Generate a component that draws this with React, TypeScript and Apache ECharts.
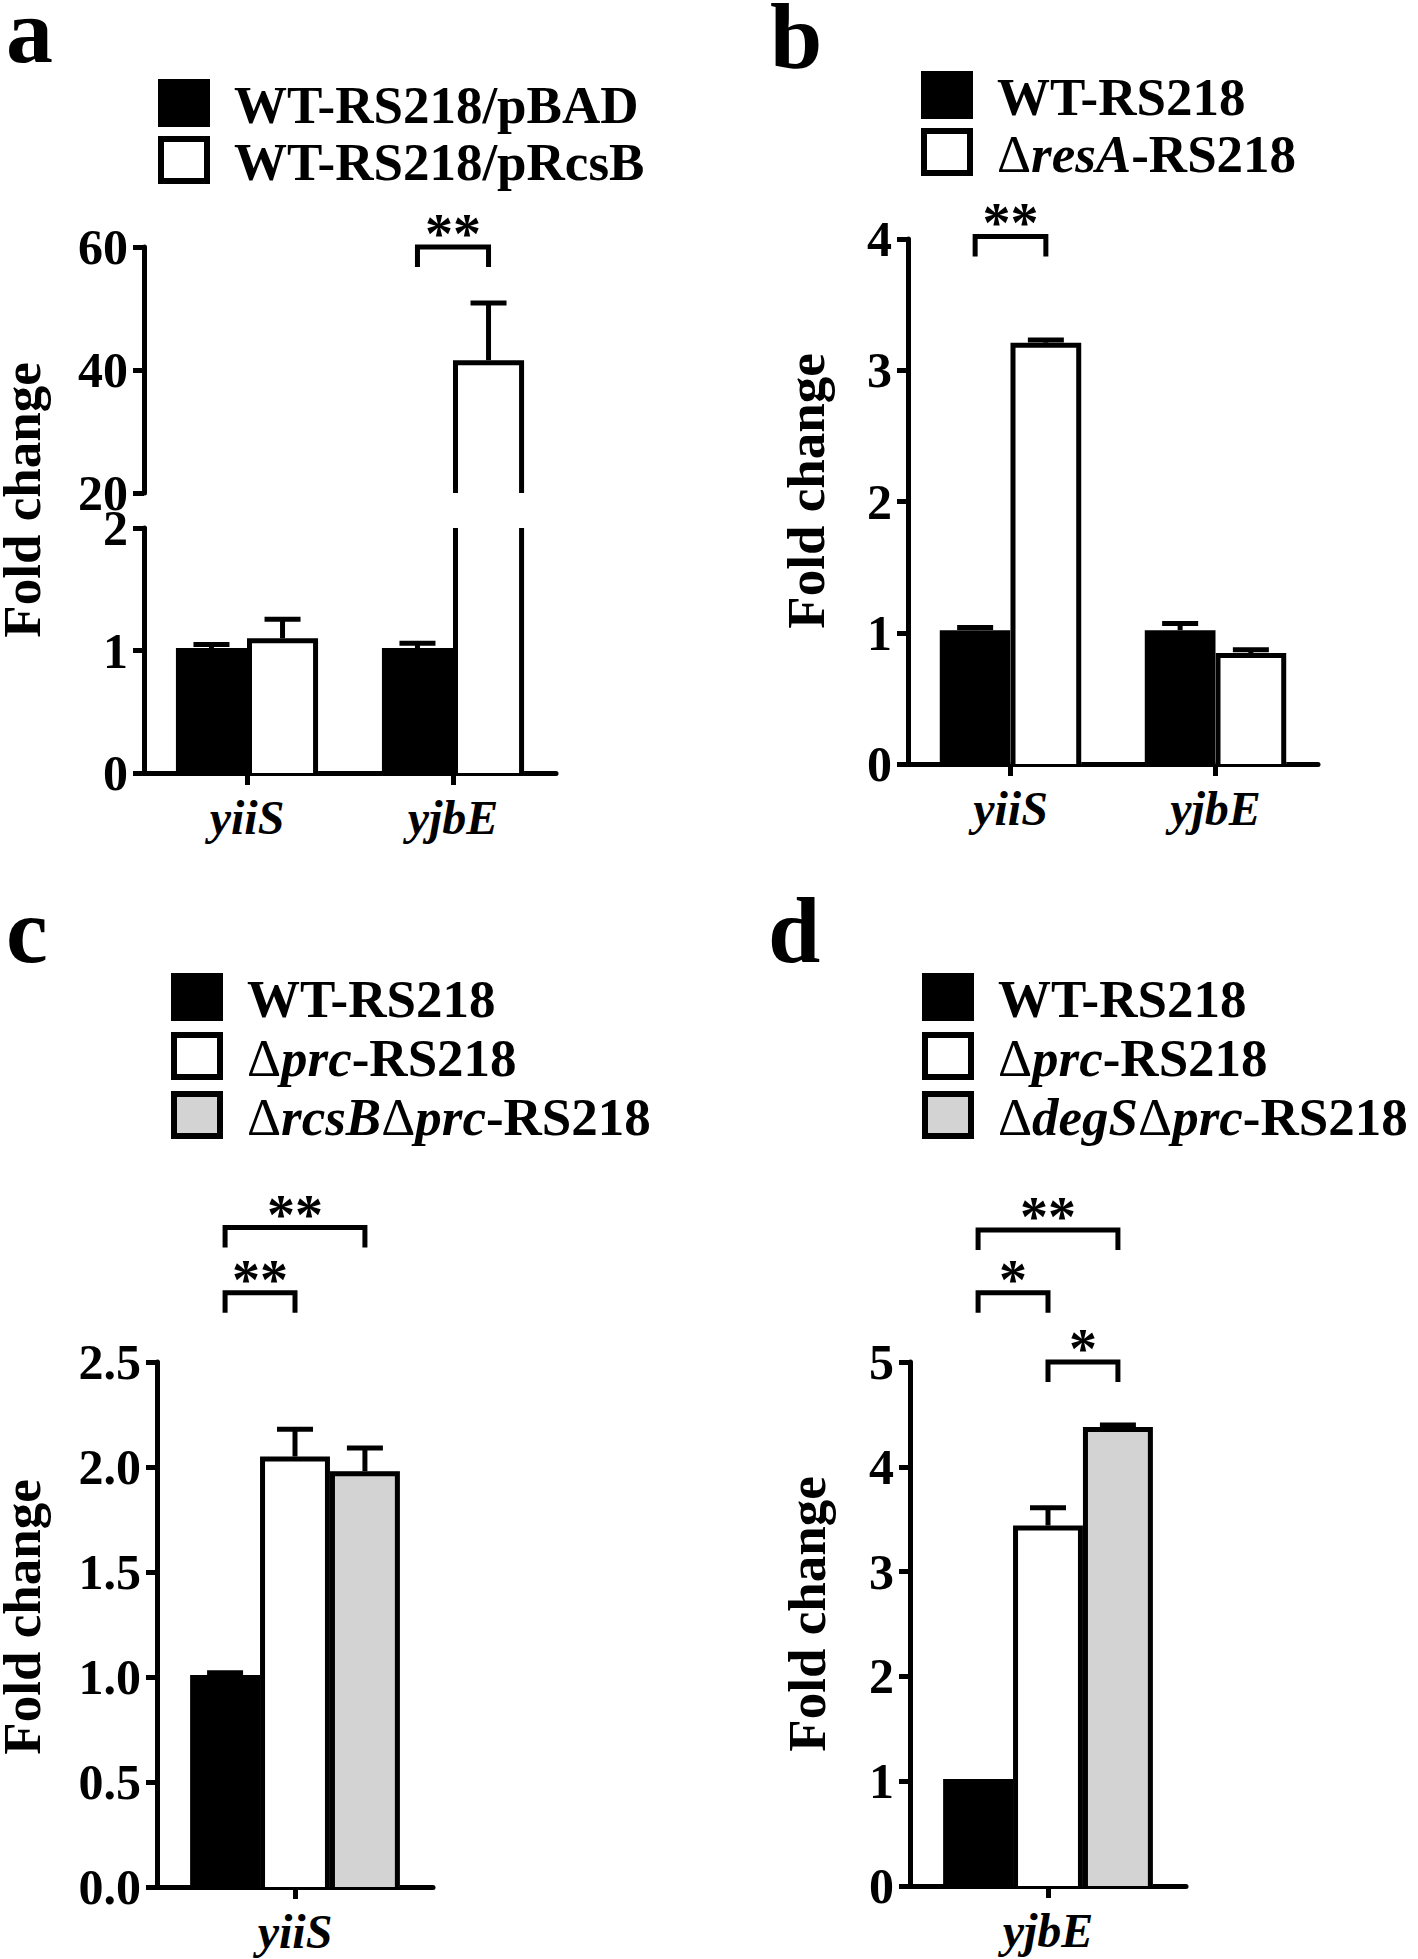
import React, { useEffect, useRef } from "react";
import * as echarts from "echarts";

// ---------------- data ----------------
// panel a (broken axis)
const categoriesA = ["yiiS", "yjbE"];
const valuesA_pBAD = [1.02, 1.02];
const errorsA_pBAD = [0.03, 0.04];
const valuesA_pRcsB = [1.1, 41.6];
const errorsA_pRcsB = [0.155, 9.3];
const lowerTicksA = [0, 1, 2];
const upperTicksA = [20, 40, 60];

// panel b
const categoriesB = ["yiiS", "yjbE"];
const valuesB_WT = [1.02, 1.02];
const errorsB_WT = [0.02, 0.05];
const valuesB_resA = [3.21, 0.845];
const errorsB_resA = [0.02, 0.025];
const ticksB = [0, 1, 2, 3, 4];

// panel c
const categoriesC = ["yiiS"];
const valuesC_WT = [1.01];
const errorsC_WT = [0.01];
const valuesC_prc = [2.05];
const errorsC_prc = [0.13];
const valuesC_rcsBprc = [1.98];
const errorsC_rcsBprc = [0.11];
const ticksC = [0, 0.5, 1, 1.5, 2, 2.5];

// panel d
const categoriesD = ["yjbE"];
const valuesD_WT = [1.02];
const errorsD_WT = [0];
const valuesD_prc = [3.44];
const errorsD_prc = [0.17];
const valuesD_degSprc = [4.38];
const errorsD_degSprc = [0.02];
const ticksD = [0, 1, 2, 3, 4, 5];

// significance brackets: category, from bar, to bar, level (data units), label
const sigA = [{ cat: 1, from: 0, to: 1, level: 60, label: "**" }];
const sigB = [{ cat: 0, from: 0, to: 1, level: 4.02, label: "**" }];
const sigC = [
  { cat: 0, from: 0, to: 2, level: 3.14, label: "**" },
  { cat: 0, from: 0, to: 1, level: 2.83, label: "**" },
];
const sigD = [
  { cat: 0, from: 0, to: 2, level: 6.26, label: "**" },
  { cat: 0, from: 0, to: 1, level: 5.66, label: "*" },
  { cat: 0, from: 1, to: 2, level: 5.0, label: "*" },
];

// legend labels (rich-text markup: b = bold, i = bold italic, d = delta)
const legendA = ["{b|WT-RS218/pBAD}", "{b|WT-RS218/pRcsB}"];
const legendB = ["{b|WT-RS218}", "{d|Δ}{i|resA}{b|-RS218}"];
const legendC = ["{b|WT-RS218}", "{d|Δ}{i|prc}{b|-RS218}", "{d|Δ}{i|rcsB}{d|Δ}{i|prc}{b|-RS218}"];
const legendD = ["{b|WT-RS218}", "{d|Δ}{i|prc}{b|-RS218}", "{d|Δ}{i|degS}{d|Δ}{i|prc}{b|-RS218}"];
const panelLetters = ["a", "b", "c", "d"];
const axisTitle = "Fold change";

// ---------------- styles ----------------
const FONT = '"Liberation Serif", "Times New Roman", Times, serif';
const FILLS = ["#000000", "#ffffff", "#d3d3d3"];
const BORDERED = [false, true, true];
const LW = 5;
const CAP = 36;
const LEG = 20;
const GAP2 = 0.31;
const GAP3 = 0.24;
const LEGEND_FS = 53;
const TICK_FS = 50;

const rich = {
  b: { fontFamily: FONT, fontSize: LEGEND_FS, fontWeight: "bold", fill: "#000", color: "#000" },
  i: { fontFamily: FONT, fontSize: LEGEND_FS, fontWeight: "bold", fontStyle: "italic", fill: "#000", color: "#000" },
  d: { fontFamily: FONT, fontSize: LEGEND_FS, fontWeight: "normal", fill: "#000", color: "#000" },
};

function barRenderer(nSeries: number, idx: number, gap: number, fill: string, bordered: boolean) {
  return (params: any, api: any) => {
    const ci = api.value(0);
    const v = api.value(1);
    const e = api.value(2);
    const cs = params.coordSys;
    const band = api.size([1, 0])[0];
    const groupW = band * (1 - gap);
    const bw = groupW / nSeries;
    const base = api.coord([ci, 0]);
    const x0 = base[0] - groupW / 2 + idx * bw;
    const gTop = cs.y;
    const gBot = cs.y + cs.height;
    const yVal = api.coord([ci, v])[1];
    if (yVal > gBot) return null;
    const openTop = yVal < gTop;
    const yT = openTop ? gTop : yVal;
    const yB = Math.min(base[1], gBot);
    const children: any[] = [
      { type: "rect", shape: { x: x0, y: yT, width: bw, height: yB - yT }, style: { fill, stroke: "none" } },
    ];
    if (bordered) {
      const h = LW / 2;
      const L = x0 + h;
      const R = x0 + bw - h;
      if (openTop) {
        children.push({ type: "line", shape: { x1: L, y1: yT, x2: L, y2: yB }, style: { stroke: "#000", lineWidth: LW } });
        children.push({ type: "line", shape: { x1: R, y1: yT, x2: R, y2: yB }, style: { stroke: "#000", lineWidth: LW } });
      } else {
        children.push({
          type: "polyline",
          shape: { points: [[L, yB], [L, yT + h], [R, yT + h], [R, yB]] },
          style: { stroke: "#000", lineWidth: LW, fill: "none", lineJoin: "miter" },
        });
      }
    }
    if (!openTop && e > 0) {
      const yE = api.coord([ci, v + e])[1];
      const xc = x0 + bw / 2;
      children.push({ type: "line", shape: { x1: xc, y1: yT, x2: xc, y2: yE }, style: { stroke: "#000", lineWidth: LW } });
      children.push({
        type: "line",
        shape: { x1: xc - CAP / 2, y1: yE, x2: xc + CAP / 2, y2: yE },
        style: { stroke: "#000", lineWidth: LW },
      });
    }
    return { type: "group", children };
  };
}

function bracketRenderer(nSeries: number, gap: number, brackets: any[]) {
  return (params: any, api: any) => {
    const b = brackets[params.dataIndex];
    const band = api.size([1, 0])[0];
    const groupW = band * (1 - gap);
    const bw = groupW / nSeries;
    const p = api.coord([b.cat, b.level]);
    const left0 = p[0] - groupW / 2;
    const xA = left0 + (b.from + 0.5) * bw;
    const xB = left0 + (b.to + 0.5) * bw;
    const y = p[1];
    return {
      type: "group",
      children: [
        {
          type: "polyline",
          shape: { points: [[xA, y + LEG], [xA, y], [xB, y], [xB, y + LEG]] },
          style: { stroke: "#000", lineWidth: LW, fill: "none", lineJoin: "miter" },
        },
        {
          type: "text",
          x: (xA + xB) / 2,
          y: y - 13,
          style: {
            text: b.label,
            fill: "#000",
            fontSize: 56,
            fontWeight: "bold",
            fontFamily: FONT,
            lineHeight: 30,
            align: "center",
            verticalAlign: "middle",
          },
        },
      ],
    };
  };
}

const GRIDS = [
  { left: 144, top: 528, width: 412, height: 245 }, // a lower
  { left: 144, top: 247, width: 412, height: 246 }, // a upper
  { left: 908, top: 239, width: 410, height: 525 }, // b
  { left: 157, top: 1362, width: 276, height: 525 }, // c
  { left: 910, top: 1362, width: 276, height: 524 }, // d
];

function xAxisFor(gridIndex: number, data: string[], show = true) {
  return {
    type: "category",
    gridIndex,
    data,
    show,
    axisLine: { show: true, onZero: false, lineStyle: { color: "#000", width: LW } },
    axisTick: { show: true, alignWithLabel: true, length: 12, lineStyle: { color: "#000", width: LW } },
    axisLabel: {
      color: "#000",
      fontFamily: FONT,
      fontSize: 48,
      fontWeight: "bold",
      fontStyle: "italic",
      margin: 20,
    },
    splitLine: { show: false },
  };
}

function yAxisFor(gridIndex: number, ticks: number[], decimals = 0) {
  return {
    type: "value",
    gridIndex,
    min: ticks[0],
    max: ticks[ticks.length - 1],
    interval: ticks[1] - ticks[0],
    axisLine: { show: true, lineStyle: { color: "#000", width: LW } },
    axisTick: { show: true, length: 11, lineStyle: { color: "#000", width: LW } },
    axisLabel: {
      color: "#000",
      fontFamily: FONT,
      fontSize: TICK_FS,
      fontWeight: "bold",
      margin: 16,
      lineHeight: 40,
      formatter: (v: number) => v.toFixed(decimals),
    },
    splitLine: { show: false },
  };
}

function barSeries(axisIndex: number, vals: number[], errs: number[], n: number, idx: number, gap: number) {
  return {
    type: "custom",
    xAxisIndex: axisIndex,
    yAxisIndex: axisIndex,
    encode: { x: 0, y: 1 },
    silent: true,
    data: vals.map((v, i) => [i, v, errs[i]]),
    renderItem: barRenderer(n, idx, gap, FILLS[idx], BORDERED[idx]),
  };
}

function sigSeries(axisIndex: number, brackets: any[], n: number, gap: number) {
  return {
    type: "custom",
    xAxisIndex: axisIndex,
    yAxisIndex: axisIndex,
    encode: { x: 0, y: 1 },
    silent: true,
    z: 5,
    data: brackets.map((b) => [b.cat, b.level]),
    renderItem: bracketRenderer(n, gap, brackets),
  };
}

function legendGraphics(labels: string[], x: number, tops: number[]) {
  const els: any[] = [];
  labels.forEach((lab, i) => {
    const top = tops[i];
    if (i === 0) {
      els.push({ type: "rect", shape: { x, y: top, width: 52, height: 48 }, style: { fill: FILLS[0] } });
    } else {
      els.push({
        type: "rect",
        shape: { x: x + 3, y: top + 3, width: 46, height: 42 },
        style: { fill: FILLS[i], stroke: "#000", lineWidth: 6 },
      });
    }
    els.push({
      type: "text",
      x: x + 76,
      y: top + 26,
      style: { text: lab, rich, verticalAlign: "middle", align: "left", fill: "#000", fontFamily: FONT, fontSize: LEGEND_FS },
    });
  });
  return els;
}

function letter(t: string, x: number, y: number) {
  return {
    type: "text",
    x,
    y,
    style: {
      text: t,
      fill: "#000",
      fontFamily: FONT,
      fontSize: 94,
      fontWeight: "bold",
      lineHeight: 54,
      verticalAlign: "middle",
      align: "left",
    },
  };
}

function title(x: number, y: number) {
  return {
    type: "text",
    x,
    y,
    rotation: Math.PI / 2,
    style: {
      text: axisTitle,
      fill: "#000",
      fontFamily: FONT,
      fontSize: 53,
      fontWeight: "bold",
      lineHeight: 42,
      align: "center",
      verticalAlign: "middle",
    },
  };
}

export default function App() {
  const ref = useRef<HTMLDivElement>(null);
  useEffect(() => {
    if (!ref.current) return;
    const chart = echarts.init(ref.current, null, { renderer: "svg", width: 1418, height: 1959 });
    const option: any = {
      animation: false,
      backgroundColor: "#ffffff",
      grid: GRIDS.map((g) => ({ ...g, containLabel: false })),
      xAxis: [
        xAxisFor(0, categoriesA),
        xAxisFor(1, categoriesA, false),
        xAxisFor(2, categoriesB),
        xAxisFor(3, categoriesC),
        xAxisFor(4, categoriesD),
      ],
      yAxis: [
        yAxisFor(0, lowerTicksA),
        yAxisFor(1, upperTicksA),
        yAxisFor(2, ticksB),
        yAxisFor(3, ticksC, 1),
        yAxisFor(4, ticksD),
      ],
      series: [
        barSeries(0, valuesA_pBAD, errorsA_pBAD, 2, 0, GAP2),
        barSeries(0, valuesA_pRcsB, errorsA_pRcsB, 2, 1, GAP2),
        barSeries(1, valuesA_pBAD, errorsA_pBAD, 2, 0, GAP2),
        barSeries(1, valuesA_pRcsB, errorsA_pRcsB, 2, 1, GAP2),
        sigSeries(1, sigA, 2, GAP2),
        barSeries(2, valuesB_WT, errorsB_WT, 2, 0, GAP2),
        barSeries(2, valuesB_resA, errorsB_resA, 2, 1, GAP2),
        sigSeries(2, sigB, 2, GAP2),
        barSeries(3, valuesC_WT, errorsC_WT, 3, 0, GAP3),
        barSeries(3, valuesC_prc, errorsC_prc, 3, 1, GAP3),
        barSeries(3, valuesC_rcsBprc, errorsC_rcsBprc, 3, 2, GAP3),
        sigSeries(3, sigC, 3, GAP3),
        barSeries(4, valuesD_WT, errorsD_WT, 3, 0, GAP3),
        barSeries(4, valuesD_prc, errorsD_prc, 3, 1, GAP3),
        barSeries(4, valuesD_degSprc, errorsD_degSprc, 3, 2, GAP3),
        sigSeries(4, sigD, 3, GAP3),
      ],
      graphic: [
        letter(panelLetters[0], 6, 30),
        letter(panelLetters[1], 770, 36),
        letter(panelLetters[2], 6, 930),
        letter(panelLetters[3], 768, 930),
        ...legendGraphics(legendA, 158, [79, 136]),
        ...legendGraphics(legendB, 921, [71, 128]),
        ...legendGraphics(legendC, 171, [973, 1032, 1091]),
        ...legendGraphics(legendD, 922, [973, 1032, 1091]),
        title(22, 500),
        title(806, 491),
        title(22, 1617),
        title(807, 1614),
      ],
    };
    chart.setOption(option);
    return () => chart.dispose();
  }, []);
  return (
    <div
      ref={ref}
      style={{ position: "absolute", left: 0, top: 0, width: 1418, height: 1959, background: "#fff" }}
    />
  );
}
